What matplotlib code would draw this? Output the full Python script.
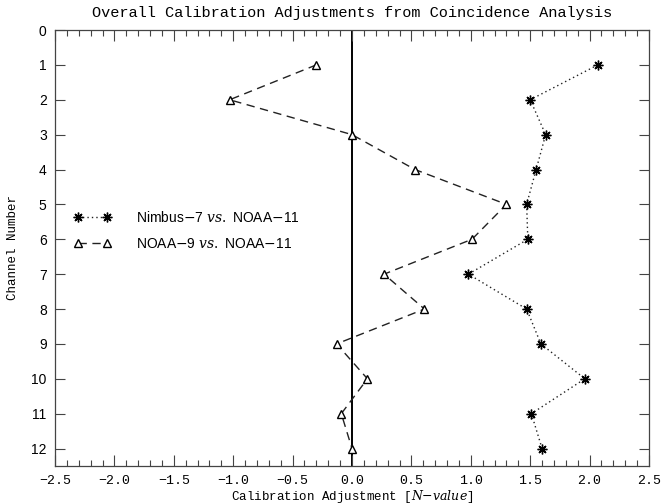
import matplotlib
matplotlib.use("Agg")
import matplotlib.pyplot as plt
from matplotlib.ticker import MultipleLocator

# Calibration adjustments (N-value) per channel
channels = [1, 2, 3, 4, 5, 6, 7, 8, 9, 10, 11, 12]
nimbus7_vs_noaa11 = [2.07, 1.50, 1.63, 1.55, 1.47, 1.48, 0.98, 1.47, 1.59, 1.96, 1.51, 1.60]
noaa9_vs_noaa11 = [-0.30, -1.03, 0.00, 0.53, 1.30, 1.01, 0.27, 0.61, -0.13, 0.13, -0.09, 0.00]

x_ticks = [-2.5, -2.0, -1.5, -1.0, -0.5, 0.0, 0.5, 1.0, 1.5, 2.0, 2.5]
y_ticks = list(range(0, 13))

mono = "Liberation Mono"
sans = "Liberation Sans"
plt.rcParams["mathtext.fontset"] = "custom"
plt.rcParams["mathtext.it"] = "DejaVu Serif:italic"
plt.rcParams["mathtext.rm"] = "DejaVu Serif"

fig = plt.figure(figsize=(6.72, 5.04), dpi=100)
ax = fig.add_axes([55 / 672, 1 - 466 / 504, 594 / 672, 436 / 504])

ax.axvline(0.0, color="black", lw=1.4, zorder=1)

ax.plot(nimbus7_vs_noaa11, channels, linestyle=(0, (1, 2.2)), color="#222222", lw=1.0,
        marker=(8, 2, 0), markersize=7, markeredgewidth=1.0, markeredgecolor="black",
        label=r"Nimbus$-$7 $\mathit{vs.}$ NOAA$-$11", zorder=3)
ax.plot(noaa9_vs_noaa11, channels, linestyle=(0, (6, 4)), color="#222222", lw=1.0,
        marker="^", markersize=6, markerfacecolor="white", markeredgewidth=1.0,
        markeredgecolor="black",
        label=r"NOAA$-$9 $\mathit{vs.}$ NOAA$-$11", zorder=3)

ax.set_xlim(-2.5, 2.5)
ax.set_ylim(12.5, 0)
ax.set_xticks(x_ticks)
ax.set_xticklabels([f"{v:.1f}".replace("-", "\u2212") for v in x_ticks],
                   fontfamily=mono, fontsize=9.5)
ax.xaxis.set_minor_locator(MultipleLocator(0.1))
ax.set_yticks(y_ticks)
ax.set_yticklabels([str(v) for v in y_ticks], fontfamily=sans, fontsize=10)

ax.tick_params(axis="x", which="major", direction="in", top=True, bottom=True,
               length=8, width=0.8, color="#444444", pad=6.5)
ax.tick_params(axis="x", which="minor", direction="in", top=True, bottom=True,
               length=4, width=0.8, color="#444444")
ax.tick_params(axis="y", which="major", direction="in", left=True, right=True,
               length=7, width=0.8, color="#444444", pad=6)

for sp in ax.spines.values():
    sp.set_linewidth(0.9)
    sp.set_color("#444444")

ax.set_title("Overall Calibration Adjustments from Coincidence Analysis",
             fontfamily=mono, fontsize=11, pad=9)
ax.set_xlabel(r"Calibration Adjustment [$N\mathit{-value}$]", fontfamily=mono,
              fontsize=9, labelpad=1)
ax.set_ylabel("Channel Number", fontfamily=mono, fontsize=9, labelpad=9)

leg = ax.legend(loc="upper left", bbox_to_anchor=(0.01, 0.615), frameon=False,
                numpoints=2, handlelength=2.7, handletextpad=1.8, labelspacing=0.85,
                prop={"family": sans, "size": 10})

fig.savefig("out.png", dpi=100)
